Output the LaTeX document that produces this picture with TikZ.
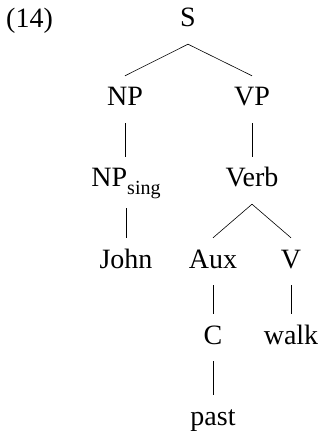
\documentclass[tikz,border=0pt]{standalone}
\usepackage{fontspec}
\setmainfont{Liberation Serif}
\begin{document}
\begin{tikzpicture}[x=1pt,y=1pt,
  lab/.style={anchor=base,font=\fontsize{28}{32}\selectfont,text height=18pt,text depth=5pt,inner xsep=2pt,inner ysep=12pt},
  edge/.style={line width=0.6pt}]
\useasboundingbox (0,0) rectangle (321,-435);
\node[anchor=base west,font=\fontsize{28}{32}\selectfont,inner sep=0pt] (ex) at (6,-28) {(14)};
\node[lab] (S) at (188,-27) {S};
\node[lab] (NP) at (125,-106) {NP};
\node[lab] (VP) at (252,-106) {VP};
\node[lab,text depth=9pt] (NPs) at (126,-187) {NP\raisebox{-0.26em}{\fontsize{20}{20}\selectfont sing}};
\node[lab] (Verb) at (252,-187) {Verb};
\node[lab] (John) at (126,-268) {John};
\node[lab] (Aux) at (213,-268) {Aux};
\node[lab] (V) at (291,-268) {V};
\node[lab] (C) at (213,-344) {C};
\node[lab] (walk) at (291,-344) {walk};
\node[lab] (past) at (213,-425) {past};
\draw[edge] (S.south) -- (NP.north);
\draw[edge] (S.south) -- (VP.north);
\draw[edge] (NP.south) -- (NP.south |- NPs.north);
\draw[edge] (VP.south) -- (VP.south |- Verb.north);
\draw[edge] (NPs.south -| John.north) -- (John.north);
\draw[edge] (Verb.south) -- (Aux.north);
\draw[edge] (Verb.south) -- (V.north);
\draw[edge] (Aux.south) -- (C.north);
\draw[edge] (V.south) -- (walk.north);
\draw[edge] (C.south) -- (past.north);
\end{tikzpicture}
\end{document}
